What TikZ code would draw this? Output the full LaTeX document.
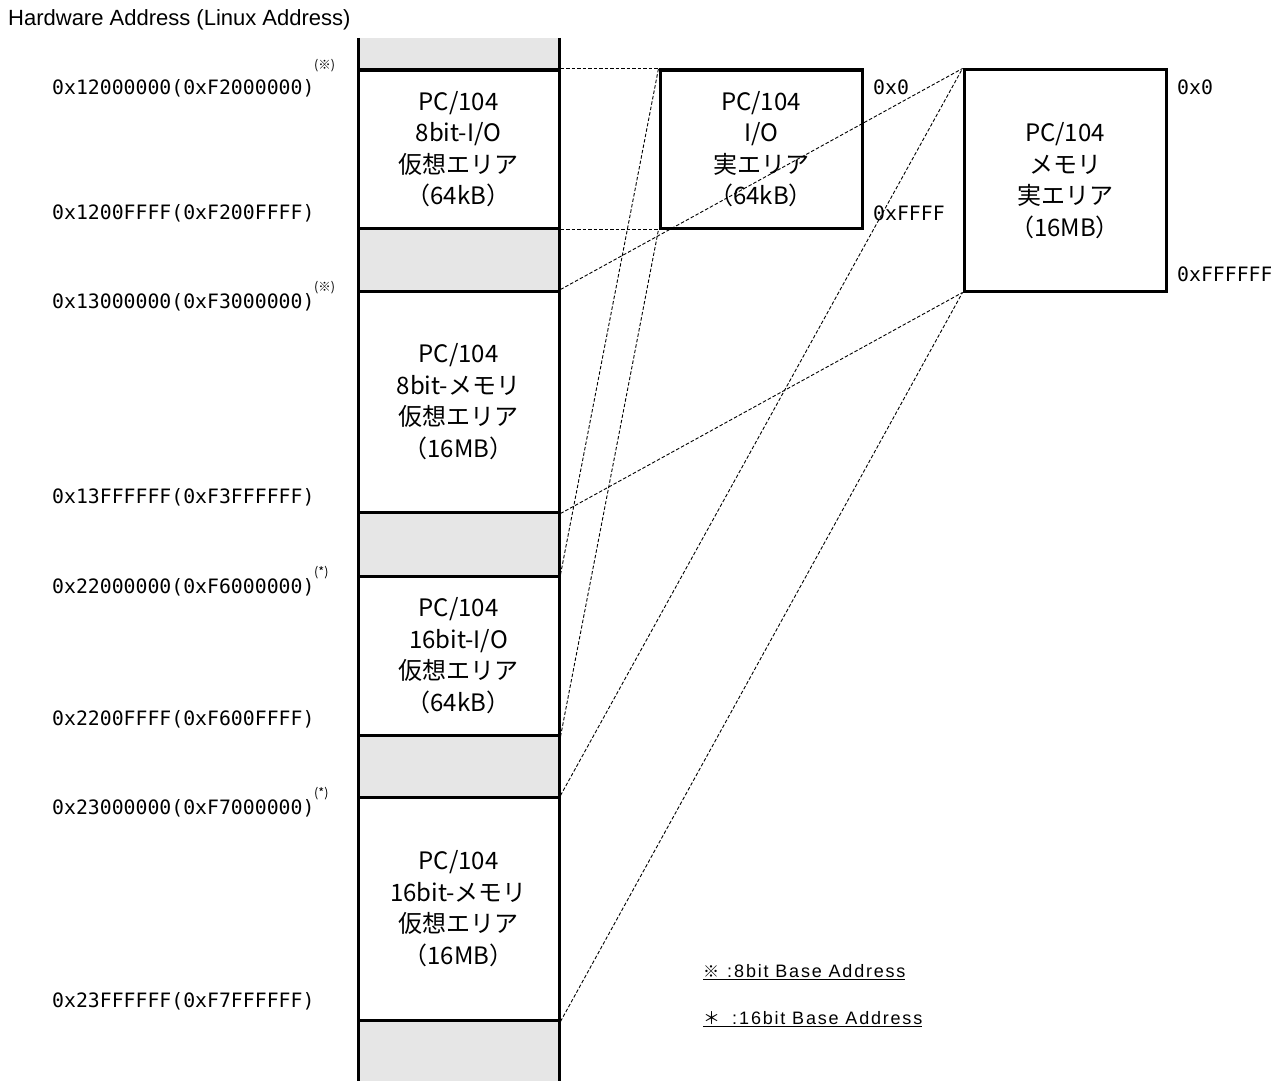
\documentclass[tikz,border=0pt]{standalone}
\usepackage{fontspec}
\setmainfont{Noto Sans CJK JP}
\newfontfamily\jpfont{Noto Sans CJK JP}
\newfontfamily\addrfont{DejaVu Sans Mono}
\newfontfamily\titlefont{Liberation Sans}
\newfontfamily\legendfont[LetterSpace=10]{Liberation Sans}
\definecolor{areagray}{RGB}{230,230,230}
\begin{document}
\begin{tikzpicture}[x=1pt,y=-1pt,
  areabox/.style={draw=black, line width=3pt, minimum width=201pt, inner sep=0pt,
    align=center, font=\jpfont\fontsize{24}{31.5}\selectfont},
  addr/.style={anchor=west, inner sep=0pt, font=\addrfont\fontsize{19.8}{22}\selectfont},
  notemark/.style={anchor=west, inner sep=0pt, font=\jpfont\fontsize{12.5}{14}\selectfont},
  legendtext/.style={anchor=west, inner sep=0pt, font=\fontsize{18}{21}\selectfont},
  conn/.style={draw=black, line width=0.9pt, dash pattern=on 3.5pt off 2pt}]
\useasboundingbox (0,0) rectangle (1271,1081);
% title
\node[anchor=west, inner sep=0pt, font=\titlefont\fontsize{22}{25}\selectfont] (title) at (8,20) {Hardware Address (Linux Address)};
% gray gaps in the column
\fill[areagray] (358,38) rectangle (559,70);
\fill[areagray] (358,228) rectangle (559,291);
\fill[areagray] (358,512) rectangle (559,576);
\fill[areagray] (358,735) rectangle (559,797);
\fill[areagray] (358,1020) rectangle (559,1081);
% virtual areas
\node[areabox, minimum height=158pt] (io8) at (458.5,149) {PC/104\\8bit-I/O\\仮想エリア\\（64kB）};
\node[areabox, minimum height=221pt] (mem8) at (458.5,401.5) {PC/104\\8bit-メモリ\\仮想エリア\\（16MB）};
\node[areabox, minimum height=159pt] (io16) at (458.5,655.5) {PC/104\\16bit-I/O\\仮想エリア\\（64kB）};
\node[areabox, minimum height=223pt] (mem16) at (458.5,908.5) {PC/104\\16bit-メモリ\\仮想エリア\\（16MB）};
% column sides
\draw[line width=3pt] (358,38) -- (358,1081);
\draw[line width=3pt] (559,38) -- (559,1081);
% real areas
\node[areabox, minimum width=202pt, minimum height=158pt] (ioreal) at (761,149) {PC/104\\I/O\\実エリア\\（64kB）};
\node[areabox, minimum width=202pt, minimum height=221pt] (memreal) at (1065,180.5) {PC/104\\メモリ\\実エリア\\（16MB）};
% address labels
\node[addr] (a1) at (52,88) {0x12000000(0xF2000000)};
\node[addr] (a2) at (52,213) {0x1200FFFF(0xF200FFFF)};
\node[addr] (a3) at (52,302) {0x13000000(0xF3000000)};
\node[addr] (a4) at (52,497) {0x13FFFFFF(0xF3FFFFFF)};
\node[addr] (a5) at (52,587) {0x22000000(0xF6000000)};
\node[addr] (a6) at (52,719) {0x2200FFFF(0xF600FFFF)};
\node[addr] (a7) at (52,808) {0x23000000(0xF7000000)};
\node[addr] (a8) at (52,1001) {0x23FFFFFF(0xF7FFFFFF)};
\node[notemark] (m1) at (314,66) {(※)};
\node[notemark] (m2) at (314,288) {(※)};
\node[notemark] (m3) at (314,573) {(*)};
\node[notemark] (m4) at (314,794) {(*)};
% real-area offsets
\node[addr] (r1) at (873,87) {0x0};
\node[addr] (r2) at (873,213) {0xFFFF};
\node[addr] (r3) at (1177,87) {0x0};
\node[addr] (r4) at (1177,274) {0xFFFFFF};
% legend
\node[legendtext] (leg1) at (703,972) {\underline{{\jpfont\fontsize{16}{20}\selectfont ※}\hspace{8pt}{\legendfont:\hspace{2pt}8bit Base Address}}};
\node[legendtext] (leg2) at (703,1019) {\underline{{\jpfont\fontsize{17}{20}\selectfont ＊}\hspace{12pt}{\legendfont:\hspace{2pt}16bit Base Address}}};
% mapping connectors
\draw[conn] (io8.north east) -- (ioreal.north west);
\draw[conn] (io8.south east) -- (ioreal.south west);
\draw[conn] (mem8.north east) -- (memreal.north west);
\draw[conn] (mem8.south east) -- (memreal.south west);
\draw[conn] (io16.north east) -- (ioreal.north west);
\draw[conn] (io16.south east) -- (ioreal.south west);
\draw[conn] (mem16.north east) -- (memreal.north west);
\draw[conn] (mem16.south east) -- (memreal.south west);
\end{tikzpicture}
\end{document}
